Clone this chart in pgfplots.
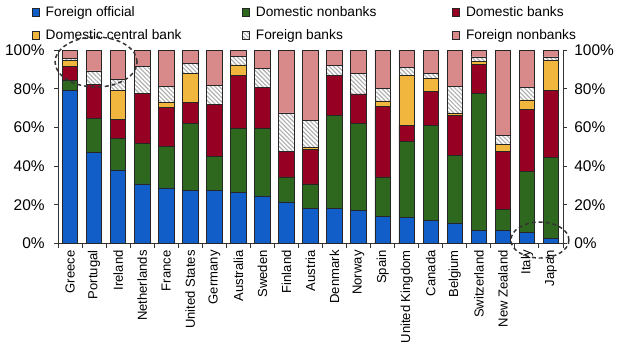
\documentclass[border=0pt]{standalone}
\usepackage{fontspec}
\setmainfont{Liberation Sans}
\usepackage{pgfplots}
\pgfplotsset{compat=1.18}
\usepackage{pgfplotstable}
\usetikzlibrary{patterns.meta}
\definecolor{cFO}{RGB}{18,94,200}
\definecolor{cDN}{RGB}{46,104,30}
\definecolor{cDB}{RGB}{150,0,34}
\definecolor{cDCB}{RGB}{240,182,62}
\definecolor{cFN}{RGB}{216,137,137}
\definecolor{cHatch}{RGB}{175,175,175}

\pgfplotstableread{
x FO DN DB DCB FB FN
0 79 5.4 7 3.4 1 4.2
1 47 17.8 17.6 0 6.8 10.8
2 38 16.5 9.4 15.4 5.3 15.4
3 30.8 20.8 26 0 13.7 8.7
4 28.7 21.6 20.1 2.6 8.2 18.8
5 27.2 35 10.8 14.9 5.1 7
6 27.2 17.9 27 0 9.8 18.1
7 26.2 33.1 27.5 5.5 4.6 3.1
8 24.6 34.7 21.4 0 9.9 9.4
9 21.5 12.9 13.3 0 19.8 32.5
10 17.9 12.9 17.7 1.1 14 36.4
11 17.9 48.4 20.5 0 5.2 8
12 16.9 45.3 15.1 0 10.6 12.1
13 13.8 20.6 36.4 2.9 6.5 19.8
14 13.3 39.3 8.6 25.6 4.1 9.1
15 11.8 49.4 17.4 6.5 2.8 12.1
16 10.6 35 20.4 1 14 19
17 6.8 70.8 15 1.4 2.4 3.6
18 6.8 11 29.7 3.8 4.6 44.1
19 5.8 31.6 31.8 5 6.5 19.3
20 2.6 41.8 34.6 15.7 1.7 3.6
}\datatable

\begin{document}
\begin{tikzpicture}
\useasboundingbox (-43.5pt,-82.125pt) rectangle (421.5pt,182.625pt);
\begin{axis}[
  scale only axis,
  width=378.75pt, height=145.1pt,
  xmin=-0.5, xmax=20.5,
  ymin=0, ymax=100,
  ybar stacked,
  bar width=11.6pt,
  axis x line*=bottom,
  axis y line*=left,
  axis line style={black!80, line width=0.7pt},
  tick align=outside,
  major tick length=3pt,
  tick style={black!80, line width=0.7pt},
  xtick={-0.5,0.5,...,20.5},
  xticklabels={},
  extra x ticks={0,...,20},
  extra x tick labels={Greece,Portugal,Ireland,Netherlands,France,United States,Germany,Australia,Sweden,Finland,Austria,Denmark,Norway,Spain,United Kingdom,Canada,Belgium,Switzerland,New Zealand,Italy,Japan},
  extra x tick style={major tick length=0pt, xticklabel style={rotate=90, anchor=east, font=\fontsize{9.8pt}{11pt}\selectfont, inner sep=0pt}},
  xticklabel shift=5pt,
  ytick={0,20,...,100},
  yticklabel={\pgfmathprintnumber{\tick}\%},
  yticklabel style={font=\fontsize{11.6pt}{13pt}\selectfont, xshift=-3.5pt},
  /pgf/number format/assume math mode=true,
  every axis plot/.append style={draw=black!85, line width=0.6pt},
  legend columns=3,
  legend style={draw=none, fill=none, at={(0,1)}, anchor=north west, xshift=-20pt, yshift=35pt,
    inner sep=0pt, row sep=4.5pt, font=\fontsize{10.3pt}{12pt}\selectfont,
    /tikz/every odd column/.append style={column sep=2.5pt},
    /tikz/every even column/.append style={column sep=0pt}},
  legend cell align=left,
  legend image code/.code={\draw[#1, line width=0.5pt] (0pt,-2.8pt) rectangle (5.6pt,2.8pt);},
]
\addplot[fill=cFO] table[x=x, y=FO] {\datatable};
\addplot[fill=cDN] table[x=x, y=DN] {\datatable};
\addplot[fill=cDB] table[x=x, y=DB] {\datatable};
\addplot[fill=cDCB] table[x=x, y=DCB] {\datatable};
\addplot[fill=white, postaction={pattern={Lines[angle=-45, distance=2.3pt, line width=0.85pt]}, pattern color=cHatch}] table[x=x, y=FB] {\datatable};
\addplot[fill=cFN] table[x=x, y=FN] {\datatable};
\legend{\makebox[145pt][l]{Foreign official},\makebox[145pt][l]{Domestic nonbanks},Domestic banks,
        \makebox[145pt][l]{Domestic central bank},\makebox[145pt][l]{Foreign banks},Foreign nonbanks}
\coordinate (e1) at (axis cs:1.083,93.8);
\coordinate (e2) at (axis cs:19.54,1.8);
\end{axis}
\begin{axis}[
  scale only axis,
  width=378.75pt, height=145.1pt,
  xmin=-0.5, xmax=20.5,
  ymin=0, ymax=100,
  axis x line=none,
  axis y line*=right,
  axis line style={black!80, line width=0.7pt},
  tick align=outside,
  major tick length=3pt,
  tick style={black!80, line width=0.7pt},
  ytick={0,20,...,100},
  yticklabel={\pgfmathprintnumber{\tick}\%},
  yticklabel style={font=\fontsize{11.6pt}{13pt}\selectfont, xshift=2pt},
  /pgf/number format/assume math mode=true,
]
\end{axis}
\draw[black!80, line width=1.1pt, dash pattern=on 3pt off 2.2pt] (e1) ellipse [x radius=30.75pt, y radius=18.75pt];
\draw[black!80, line width=1.1pt, dash pattern=on 3pt off 2.2pt] (e2) ellipse [x radius=21.75pt, y radius=13.5pt];
\end{tikzpicture}
\end{document}
